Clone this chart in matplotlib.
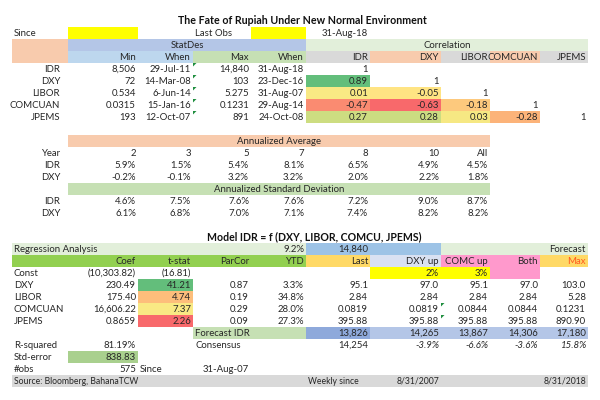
import numpy as np
import matplotlib.pyplot as plt
from matplotlib.colors import LinearSegmentedColormap, TwoSlopeNorm
from matplotlib.patches import Rectangle, Polygon

# ---- data ----
title = 'The Fate of Rupiah Under New Normal Environment'
last_obs = '31-Aug-18'

stat_names = ['IDR', 'DXY', 'LIBOR', 'COMCUAN', 'JPEMS']
stat_min = ['8,506', '72', '0.534', '0.0315', '193']
stat_min_when = ['29-Jul-11', '14-Mar-08', '6-Jun-14', '15-Jan-16', '12-Oct-07']
stat_max = ['14,840', '103', '5.275', '0.1231', '891']
stat_max_when = ['31-Aug-18', '23-Dec-16', '31-Aug-07', '29-Aug-14', '24-Oct-08']

# lower triangle of the correlation matrix
corr = [[1],
        [0.89, 1],
        [0.01, -0.05, 1],
        [-0.47, -0.63, -0.18, 1],
        [0.27, 0.28, 0.03, -0.28, 1]]

years = ['2', '3', '5', '7', '8', '10', 'All']
avg_idr = [5.9, 1.5, 5.4, 8.1, 6.5, 4.9, 4.5]
avg_dxy = [-0.2, -0.1, 3.2, 3.2, 2.0, 2.2, 1.8]
std_idr = [4.6, 7.5, 7.6, 7.6, 7.2, 9.0, 8.7]
std_dxy = [6.1, 6.8, 7.0, 7.1, 7.4, 8.2, 8.2]

reg_names = ['Const', 'DXY', 'LIBOR', 'COMCUAN', 'JPEMS']
coef = ['(10,303.82)', '230.49', '175.40', '16,606.22', '0.8659']
tstat = [-16.81, 41.21, 4.74, 7.37, 2.26]
parcor = ['', '0.87', '0.19', '0.29', '0.09']
ytd = ['', '3.3%', '34.8%', '28.0%', '27.3%']
last = ['', '95.1', '2.84', '0.0819', '395.88']
dxy_up = ['2%', '97.0', '2.84', '0.0819', '395.88']
comc_up = ['3%', '95.1', '2.84', '0.0844', '395.88']
both = ['', '97.0', '2.84', '0.0844', '395.88']
fc_max = ['', '103.0', '5.28', '0.1231', '890.90']
forecast_idr = ['13,826', '14,265', '13,867', '14,306', '17,180']
consensus = ['14,254', '-3.9%', '-6.6%', '-3.6%', '15.8%']

# ---- layout ----
edges = [12, 68, 138, 193, 251, 306, 370, 441, 490, 540, 588]
RH = 12
FS = 6.9
plt.rcParams['font.family'] = ['Lato', 'DejaVu Sans']
TXT = '#262626'

fig = plt.figure(figsize=(6, 4), dpi=100)
ax = fig.add_axes([0, 0, 1, 1])
ax.set_xlim(0, 600)
ax.set_ylim(400, 0)
ax.axis('off')


def ymid(r):
    return 21 + RH * r


def fill(c0, c1, r0, r1, color):
    x0, x1 = edges[c0], edges[c1 + 1]
    y0 = ymid(r0) - RH / 2
    ax.add_patch(Rectangle((x0, y0), x1 - x0, RH * (r1 - r0 + 1), color=color, lw=0))


def put(text, c, r, align='right', **kw):
    kw.setdefault('color', TXT)
    kw.setdefault('fontsize', FS)
    if align == 'right':
        x = edges[c + 1] - 2
    elif align == 'left':
        x = edges[c] + 2
    else:
        x = (edges[c] + edges[c + 1]) / 2
    ax.text(x, ymid(r) + 0.5, text, ha=align, va='center', **kw)


def put_span(text, c0, c1, r, **kw):
    kw.setdefault('color', TXT)
    kw.setdefault('fontsize', FS)
    ax.text((edges[c0] + edges[c1 + 1]) / 2, ymid(r) + 0.5, text, ha='center', va='center', **kw)


def flag(c, r):
    x, y = edges[c], ymid(r) - RH / 2
    ax.add_patch(Polygon([[x, y], [x + 3.5, y], [x, y + 3.5]], color='#1E8E3E', lw=0))


# excel style 3-colour scale
scale = LinearSegmentedColormap.from_list('rag', ['#F8696B', '#FFEB84', '#63BE7B'])


def scale_colors(vals):
    norm = TwoSlopeNorm(vmin=min(vals), vcenter=float(np.median(vals)), vmax=max(vals))
    return [scale(norm(v)) for v in vals]


# title + since row
ax.text(302, ymid(0), title, ha='center', va='center', fontsize=7.7, fontweight='bold', color='#111111')
fill(1, 1, 1, 1, '#FFFF00')
fill(4, 4, 1, 1, '#FFFF00')
put('Since', 0, 1, 'left')
put('Last Obs', 3, 1, 'left')
put(last_obs, 5, 1)

# StatDes / Correlation headers
fill(0, 0, 2, 3, '#F8CBAD')
fill(1, 4, 2, 2, '#B4C6E7')
fill(5, 9, 2, 2, '#E2EFDA')
put_span('StatDes', 1, 4, 2)
put_span('Correlation', 5, 9, 2)
fill(1, 2, 3, 3, '#BDD7EE')
fill(3, 4, 3, 3, '#C6E0B4')
for j, col in enumerate(['#D9D9D9', '#F8CBAD', '#D9D9D9', '#F8CBAD', '#D9D9D9']):
    fill(5 + j, 5 + j, 3, 3, col)
for c, h in enumerate(['Min', 'When', 'Max', 'When'] + stat_names):
    put(h, c + 1, 3)

off_diag = [v for i, row in enumerate(corr) for v in row[:i]]
off_cols = iter(scale_colors(off_diag))
for i, name in enumerate(stat_names):
    r = 4 + i
    ax.text(60, ymid(r) + 0.5, name, ha='right', va='center', fontsize=FS, color=TXT)
    put(stat_min[i], 1, r)
    put(stat_min_when[i], 2, r)
    put(stat_max[i], 3, r)
    put(stat_max_when[i], 4, r)
    flag(3, r)
    for j, v in enumerate(corr[i]):
        if j < i:
            fill(5 + j, 5 + j, r, r, next(off_cols))
        put('%g' % v if v == 1 else '%.2f' % v, 5 + j, r)

# annualized tables
fill(1, 7, 10, 10, '#F8CBAD')
put_span('Annualized Average', 1, 7, 10)
fill(1, 7, 14, 14, '#C6E0B4')
put_span('Annualized Standard Deviation', 1, 7, 14)
ann_rows = [(11, 'Year', years), (12, 'IDR', avg_idr), (13, 'DXY', avg_dxy),
            (15, 'IDR', std_idr), (16, 'DXY', std_dxy)]
for r, lab, vals in ann_rows:
    ax.text(60, ymid(r) + 0.5, lab, ha='right', va='center', fontsize=FS, color=TXT)
    for j, v in enumerate(vals):
        put(v if isinstance(v, str) else '%.1f%%' % v, 1 + j, r)

# regression model
ax.text(314, ymid(18), 'Model IDR = f (DXY, LIBOR, COMCU, JPEMS)', ha='center', va='center',
        fontsize=7.6, fontweight='bold', color='#111111')
fill(0, 4, 19, 19, '#E2EFDA')
fill(5, 6, 19, 19, '#9DC3E6')
fill(7, 9, 19, 19, '#E2EFDA')
put('Regression Analysis', 0, 19, 'left')
put('9.2%', 4, 19)
put('14,840', 5, 19)
put('Forecast', 9, 19)

fill(0, 4, 20, 20, '#92D050')
fill(5, 5, 20, 20, '#FFD966')
fill(6, 6, 20, 20, '#D9E1F2')
fill(7, 7, 20, 20, '#FF99CC')
fill(8, 8, 20, 21, '#FF99CC')
fill(9, 9, 20, 20, '#FFD966')
fill(6, 7, 21, 21, '#FFFF00')
for c, h in enumerate(['Coef', 't-stat', 'ParCor', 'YTD', 'Last', 'DXY up', 'COMC up', 'Both']):
    put(h, c + 1, 20)
put('Max', 9, 20, color='#FF5A1F')

t_cols = scale_colors(tstat[1:])
for i, name in enumerate(reg_names):
    r = 21 + i
    put(name, 0, r, 'left')
    put(coef[i], 1, r)
    if i == 0:
        put('(%.2f)' % abs(tstat[i]), 2, r)
    else:
        fill(2, 2, r, r, t_cols[i - 1])
        put('%.2f' % tstat[i], 2, r)
    for c, col in enumerate([parcor, ytd, last, dxy_up, comc_up, both, fc_max]):
        put(col[i], 3 + c, r)
flag(7, 24)
flag(7, 25)

fill(3, 4, 26, 26, '#C6E0B4')
fill(5, 5, 26, 26, '#8EA9DB')
fill(6, 9, 26, 26, '#B4C6E7')
put('Forecast IDR', 3, 26, 'left')
for j, v in enumerate(forecast_idr):
    put(v, 5 + j, 26)

put('R-squared', 0, 27, 'left')
put('81.19%', 1, 27)
put('Consensus', 3, 27, 'left')
put(consensus[0], 5, 27)
for j, v in enumerate(consensus[1:]):
    put(v, 6 + j, 27, style='italic')

fill(1, 1, 28, 28, '#A9D08E')
put('Std-error', 0, 28, 'left')
put('838.83', 1, 28)

put('#obs', 0, 29, 'left')
put('575', 1, 29)
put('Since', 2, 29, 'left')
put('31-Aug-07', 3, 29)

fill(0, 9, 30, 30, '#D9D9D9')
put('Source: Bloomberg, BahanaTCW', 0, 30, 'left', fontsize=6.2)
put('Weekly since', 5, 30, 'left', fontsize=6.2)
put('8/31/2007', 6, 30, fontsize=6.2)
put('8/31/2018', 9, 30, fontsize=6.2)

plt.savefig('out.png', dpi=100)
plt.close()
